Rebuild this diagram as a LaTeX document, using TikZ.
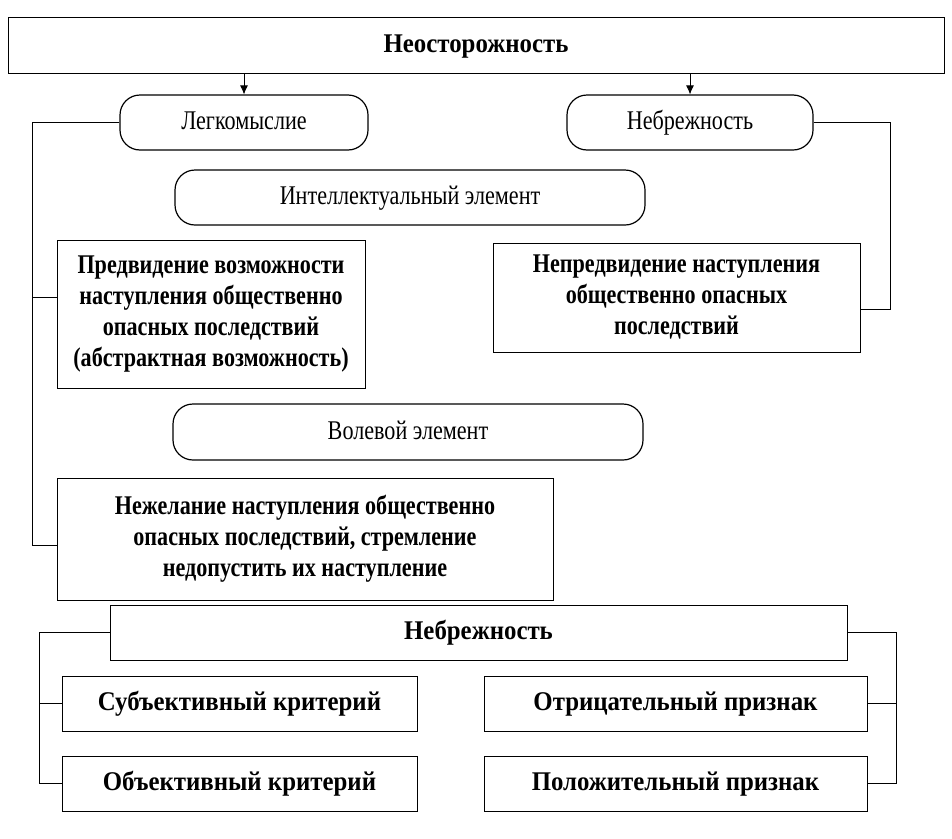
\documentclass[tikz,border=0pt]{standalone}
\usepackage{fontspec}
\setmainfont{Liberation Serif}[FakeStretch=0.82]
\newfontfamily\wideserif{Liberation Serif}[FakeStretch=0.92]
\usetikzlibrary{arrows.meta}

\begin{document}
\begin{tikzpicture}[x=1pt, y=-1pt,
    box/.style={rectangle, draw=black, line width=1pt, align=center, inner sep=2pt, font=\fontsize{27}{31}\selectfont\bfseries},
    hbox/.style={box, text height=19pt, text depth=5pt, font=\fontsize{27}{31}\wideserif\bfseries},
    rbox/.style={rectangle, rounded corners=20pt, draw=black, line width=1.2pt, align=center, text height=19pt, text depth=5pt, font=\fontsize{27}{31}\selectfont},
    link/.style={line width=0.8pt}]
    \useasboundingbox (0,0) rectangle (952,838);

    \node[hbox, minimum width=936pt, minimum height=56pt] (neost) at (476, 45) {Неосторожность};
    \node[rbox, minimum width=248pt, minimum height=55pt] (legk) at (244, 122.5) {Легкомыслие};
    \node[rbox, minimum width=246pt, minimum height=55pt] (nebr) at (690, 122.5) {Небрежность};
    \node[rbox, minimum width=470pt, minimum height=55pt] (intel) at (410, 197.5) {Интеллектуальный элемент};
    \node[box, minimum width=308pt, minimum height=148pt] (predv) at (211, 314) {Предвидение возможности\\наступления общественно\\опасных последствий\\(абстрактная возможность)};
    \node[box, minimum width=367pt, minimum height=109pt] (nepredv) at (676.5, 297.5) {Непредвидение наступления\\общественно опасных\\последствий};
    \node[rbox, minimum width=470pt, minimum height=56pt] (vol) at (408, 432) {Волевой элемент};
    \node[box, minimum width=496pt, minimum height=122pt] (nezh) at (305, 539) {Нежелание наступления общественно\\опасных последствий, стремление\\недопустить их наступление};

    \node[hbox, minimum width=737pt, minimum height=55pt] (nebrb) at (478.5, 632.5) {Небрежность};
    \node[hbox, minimum width=355pt, minimum height=55pt] (subj) at (239.5, 703.5) {Субъективный критерий};
    \node[hbox, minimum width=355pt, minimum height=55pt] (obj) at (239.5, 783.5) {Объективный критерий};
    \node[hbox, minimum width=383pt, minimum height=55pt] (otr) at (675.5, 703.5) {Отрицательный признак};
    \node[hbox, minimum width=383pt, minimum height=55pt] (pol) at (675.5, 783.5) {Положительный признак};

    \draw[link, -{Latex[length=9pt, width=8pt]}] (legk.north |- neost.south) -- (legk.north);
    \draw[link, -{Latex[length=9pt, width=8pt]}] (nebr.north |- neost.south) -- (nebr.north);
    \draw[link] (legk.west) -- ++(-87,0) |- ([yshift=-6pt]nezh.west);
    \draw[link] ([yshift=17pt]predv.west) -- ++(-24,0);
    \draw[link] (nebr.east) -- ++(77,0) |- ([yshift=-12pt]nepredv.east);

    \draw[link] (nebrb.west) -- ++(-70,0) |- (obj.west);
    \draw[link] (subj.west) -- ++(-22,0);
    \draw[link] (nebrb.east) -- ++(49,0) |- (pol.east);
    \draw[link] (otr.east) -- ++(29,0);
\end{tikzpicture}
\end{document}
